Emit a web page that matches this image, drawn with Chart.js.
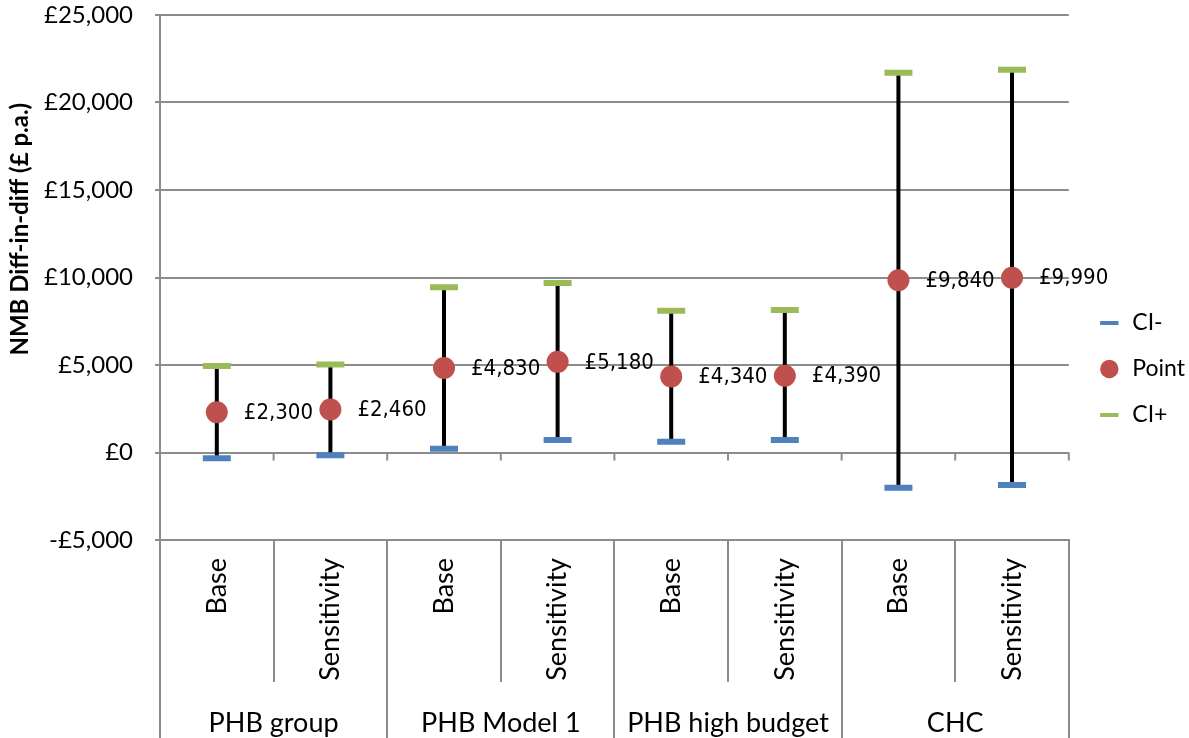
<!DOCTYPE html>
<html>
<head>
<meta charset="utf-8">
<title>NMB Diff-in-diff</title>
<script src="https://cdn.jsdelivr.net/npm/chart.js@4"></script>
<style>
  html, body { margin: 0; padding: 0; background: #fff; }
  #contenedor { width: 1189px; height: 738px; }
</style>
</head>
<body>
<div id="contenedor"><canvas id="grafico"></canvas></div>
<script>
// Datos
const categorias = ['Base', 'Sensitivity', 'Base', 'Sensitivity', 'Base', 'Sensitivity', 'Base', 'Sensitivity']
const grupos = ['PHB group', 'PHB Model 1', 'PHB high budget', 'CHC']
const ciMenos = [-330, -150, 220, 710, 620, 710, -2010, -1860]
const puntos = [2300, 2460, 4830, 5180, 4340, 4390, 9840, 9990]
const ciMas = [4950, 5030, 9450, 9690, 8100, 8140, 21700, 21870]

const gris = '#8c8c8c'
const fuente = 'Lato, "Open Sans", sans-serif'
const fuenteEstrecha = '"Liberation Sans Narrow", "DejaVu Sans Condensed", Lato, sans-serif'

// Formato de moneda en libras
function libras(v) {
    const s = Math.abs(v).toLocaleString('en-GB')
    return (v < 0 ? '-' : '') + '£' + s
}

// Plugin: barras de error, marcas en el cero, etiquetas y titulo del eje
const barrasError = {
    id: 'barrasError',
    afterLayout(chart) {
        // mover la leyenda un poco a la derecha
        chart.legend.left += 6
        chart.legend.right += 6
    },
    beforeDatasetsDraw(chart) {
        const { ctx, scales: { x, y } } = chart
        ctx.save()
        const y0 = y.getPixelForValue(0)
        ctx.strokeStyle = gris
        ctx.lineWidth = 2
        for (let i = 0; i <= categorias.length; i++) {
            const xb = x.getPixelForValue(i - 0.5)
            ctx.beginPath()
            ctx.moveTo(xb, y0)
            ctx.lineTo(xb, y0 + 8)
            ctx.stroke()
        }
        ctx.strokeStyle = '#000'
        ctx.lineWidth = 4
        categorias.forEach((c, i) => {
            const xc = x.getPixelForValue(i)
            ctx.beginPath()
            ctx.moveTo(xc, y.getPixelForValue(ciMenos[i]))
            ctx.lineTo(xc, y.getPixelForValue(ciMas[i]))
            ctx.stroke()
        })
        ctx.restore()
    },
    afterDatasetsDraw(chart) {
        const { ctx, scales: { x, y } } = chart
        ctx.save()
        ctx.fillStyle = '#000'
        ctx.font = '22px ' + fuenteEstrecha
        ctx.textAlign = 'left'
        ctx.textBaseline = 'middle'
        puntos.forEach((v, i) => {
            ctx.fillText(libras(v), x.getPixelForValue(i) + 27, y.getPixelForValue(v) + 1)
        })
        ctx.restore()
    },
    afterDraw(chart) {
        const { ctx, chartArea } = chart
        ctx.save()
        ctx.fillStyle = '#000'
        ctx.font = 'bold 24px ' + fuente
        ctx.textAlign = 'center'
        ctx.textBaseline = 'middle'
        ctx.translate(20, chartArea.top + (chartArea.bottom - chartArea.top) * 0.408)
        ctx.rotate(-Math.PI / 2)
        ctx.fillText('NMB Diff-in-diff (£ p.a.)', 0, 0)
        ctx.restore()
    }
}

const contexto = document.getElementById('grafico').getContext('2d')
new Chart(contexto, {
    type: 'line',
    data: {
        labels: categorias,
        datasets: [{
            label: 'CI-',
            data: ciMenos,
            showLine: false,
            pointStyle: 'line',
            pointRadius: 14,
            pointHoverRadius: 14,
            pointBorderColor: '#4f81bd',
            pointBackgroundColor: '#4f81bd',
            pointBorderWidth: 6,
            pointHoverBorderWidth: 6
        }, {
            label: 'Point',
            data: puntos,
            showLine: false,
            pointStyle: 'circle',
            pointRadius: 11,
            pointHoverRadius: 11,
            pointBackgroundColor: '#c0504d',
            pointBorderColor: '#c0504d',
            pointBorderWidth: 0
        }, {
            label: 'CI+',
            data: ciMas,
            showLine: false,
            pointStyle: 'line',
            pointRadius: 14,
            pointHoverRadius: 14,
            pointBorderColor: '#9bbb59',
            pointBackgroundColor: '#9bbb59',
            pointBorderWidth: 6,
            pointHoverBorderWidth: 6
        }]
    },
    options: {
        responsive: true,
        maintainAspectRatio: false,
        animation: false,
        events: [],
        layout: { autoPadding: false, padding: 0 },
        plugins: {
            tooltip: { enabled: false },
            legend: {
                position: 'right',
                labels: {
                    usePointStyle: true,
                    boxHeight: 13,
                    padding: 23,
                    color: '#000',
                    font: { family: fuente, size: 23 },
                    generateLabels(chart) {
                        const items = Chart.defaults.plugins.legend.labels.generateLabels(chart)
                        items.forEach(it => { if (it.pointStyle === 'line') it.lineWidth = 4 })
                        return items
                    }
                }
            }
        },
        scales: {
            x: {
                type: 'category',
                offset: true,
                weight: 0,
                grid: { offset: true, drawOnChartArea: false, tickLength: 142, color: gris, lineWidth: 2 },
                border: { display: true, color: gris, width: 2 },
                ticks: { autoSkip: false, minRotation: 90, maxRotation: 90, padding: -124, color: '#000', font: { family: fuente, size: 27 } },
                afterFit(scale) { scale.height = 142 }
            },
            x2: {
                type: 'category',
                labels: grupos,
                position: 'bottom',
                offset: true,
                weight: 1,
                grid: { offset: true, drawOnChartArea: false, tickLength: 56, color: gris, lineWidth: 2 },
                border: { display: false },
                ticks: { autoSkip: false, maxRotation: 0, padding: -31, color: '#000', font: { family: fuente, size: 27 } },
                afterFit(scale) { scale.height = 56 }
            },
            y: {
                min: -5000,
                max: 25000,
                ticks: { stepSize: 5000, callback: libras, padding: 22, color: '#000', font: { family: fuente, size: 24 } },
                grid: { color: gris, lineWidth: 2, tickLength: 5 },
                border: { color: gris, width: 2 },
                afterFit(scale) {
                    scale.width = 160
                    scale.paddingTop = 15
                    scale.paddingBottom = 0
                }
            }
        }
    },
    plugins: [barrasError]
})
</script>
</body>
</html>
